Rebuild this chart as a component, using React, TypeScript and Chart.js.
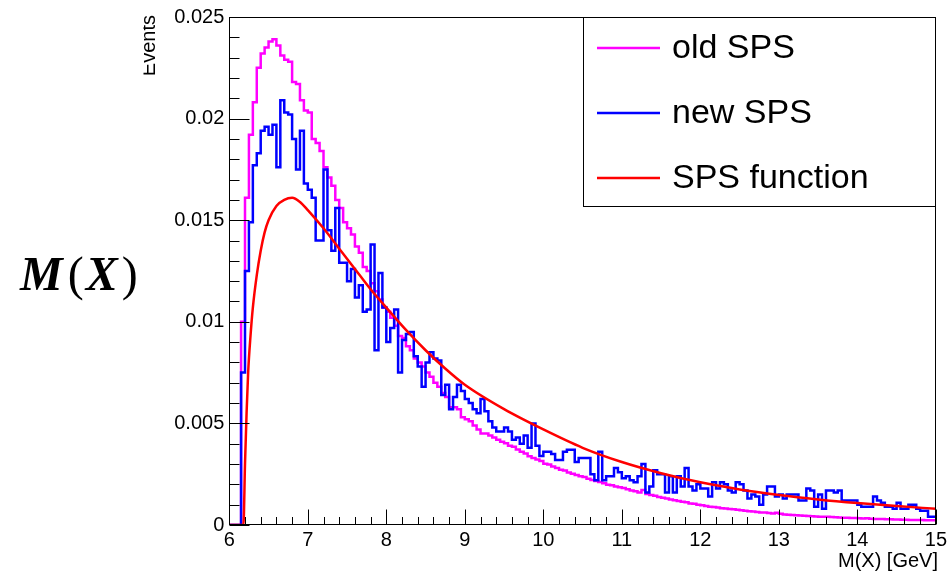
import React, { useEffect, useRef } from "react";
import { Chart, registerables } from "chart.js";

Chart.register(...registerables);

// ---------- data ----------
const BIN_LOW = 6;
const BIN_WIDTH = 0.05;

// "old SPS" histogram, 180 bins of 0.05 GeV from 6.00 to 15.00 (one row = 0.5 GeV)
const oldSPS = [
  0, 0, 0, 0, 0.0100, 0.0161, 0.0192, 0.0208, 0.0225, 0.0232,
  0.0235, 0.0238, 0.0239, 0.0236, 0.0231, 0.0229, 0.0228, 0.0218, 0.0217, 0.0209,
  0.0204, 0.0203, 0.0190, 0.0188, 0.0184, 0.0176, 0.0171, 0.0167, 0.0160, 0.0156,
  0.0149, 0.0146, 0.0143, 0.0137, 0.0134, 0.0127, 0.0125, 0.0119, 0.0115, 0.0111,
  0.0107, 0.0105, 0.0102, 0.0098, 0.0093, 0.0092, 0.0088, 0.0086, 0.0082, 0.0080,
  0.0078, 0.0075, 0.0073, 0.0070, 0.0068, 0.0065, 0.0063, 0.0058, 0.0058, 0.0057,
  0.0053, 0.0052, 0.0051, 0.0049, 0.0047, 0.0045, 0.0045, 0.0044, 0.0043, 0.0042,
  0.00410, 0.00402, 0.00390, 0.00385, 0.00372, 0.00360, 0.00352, 0.00338, 0.00330, 0.00322,
  0.00315, 0.00302, 0.00298, 0.00288, 0.00280, 0.00272, 0.00268, 0.00258, 0.00252, 0.00246,
  0.00240, 0.00236, 0.00228, 0.00222, 0.00216, 0.00212, 0.00206, 0.00198, 0.00196, 0.00190,
  0.00186, 0.00182, 0.00176, 0.00170, 0.00166, 0.00160, 0.00172, 0.00152, 0.00148, 0.00144,
  0.00138, 0.00134, 0.00130, 0.00126, 0.00122, 0.00118, 0.00114, 0.00112, 0.00106, 0.00104,
  0.00100, 0.00097, 0.00094, 0.00090, 0.00088, 0.00086, 0.00083, 0.00081, 0.00079, 0.00077,
  0.00075, 0.00073, 0.00070, 0.00068, 0.00066, 0.00064, 0.00062, 0.00061, 0.00059, 0.00057,
  0.00060, 0.00055, 0.00052, 0.00050, 0.00049, 0.00048, 0.00047, 0.00046, 0.00044, 0.00043,
  0.00042, 0.00041, 0.00040, 0.00041, 0.00039, 0.00038, 0.00037, 0.00036, 0.00036, 0.00035,
  0.00034, 0.00033, 0.00032, 0.00033, 0.00031, 0.00030, 0.00030, 0.00029, 0.00028, 0.00028,
  0.00027, 0.00027, 0.00026, 0.00026, 0.00025, 0.00025, 0.00024, 0.00024, 0.00023, 0.00023,
];

// "new SPS" histogram, same binning
const newSPS = [
  0, 0, 0, 0, 0.0075, 0.0125, 0.0149, 0.0177, 0.0183, 0.0194,
  0.0196, 0.0192, 0.0197, 0.0176, 0.0209, 0.0203, 0.0202, 0.0190, 0.0175, 0.0194,
  0.0168, 0.0165, 0.0161, 0.0140, 0.0140, 0.0175, 0.0145, 0.0135, 0.0156, 0.0129,
  0.0129, 0.0120, 0.0126, 0.0112, 0.0118, 0.0105, 0.0106, 0.0138, 0.0086, 0.0124,
  0.0107, 0.0090, 0.0097, 0.0106, 0.0075, 0.0091, 0.0094, 0.0095, 0.0083, 0.0078,
  0.0068, 0.0080, 0.0085, 0.0082, 0.0081, 0.0064, 0.0069, 0.0057, 0.0063, 0.0069,
  0.0066, 0.0062, 0.0060, 0.0057, 0.0055, 0.0062, 0.0056, 0.0051, 0.0048, 0.0046,
  0.0046, 0.0048, 0.0046, 0.0042, 0.0043, 0.0040, 0.0044, 0.0038, 0.0050, 0.0039,
  0.0034, 0.0036, 0.0036, 0.0035, 0.0032, 0.0032, 0.0036, 0.0037, 0.0037, 0.0031,
  0.0033, 0.0033, 0.0033, 0.0025, 0.0022, 0.0036, 0.0022, 0.0024, 0.0024, 0.0028,
  0.0026, 0.0023, 0.0024, 0.0022, 0.0021, 0.0024, 0.0030, 0.0016, 0.0019, 0.0027,
  0.0025, 0.0025, 0.0016, 0.0024, 0.0016, 0.0024, 0.0019, 0.0028, 0.0019, 0.0017,
  0.0020, 0.0018, 0.0018, 0.0014, 0.0021, 0.0018, 0.0021, 0.0020, 0.0017, 0.0016,
  0.0021, 0.0020, 0.0017, 0.0013, 0.0015, 0.0014, 0.0010, 0.0015, 0.0019, 0.0019,
  0.0014, 0.0015, 0.0013, 0.0015, 0.0015, 0.0015, 0.0012, 0.0012, 0.0018, 0.0017,
  0.0009, 0.0015, 0.0008, 0.0017, 0.0017, 0.0016, 0.0017, 0.0012, 0.0012, 0.0012,
  0.0012, 0.0010, 0.0009, 0.0009, 0.0009, 0.0014, 0.0012, 0.0011, 0.0009, 0.0009,
  0.0008, 0.0011, 0.0008, 0.0008, 0.0010, 0.0010, 0.0008, 0.0007, 0.0007, 0.0004,
];

// "SPS function" curve samples
const funcX = [
  6.0, 6.18, 6.2, 6.22, 6.24, 6.27, 6.3, 6.35, 6.4, 6.45, 6.5, 6.6, 6.7, 6.8, 6.9,
  7.0, 7.2, 7.4, 7.6, 7.8, 8.0, 8.25, 8.5, 8.75, 9.0, 9.5, 10, 10.5, 11, 11.5, 12,
  12.5, 13, 13.5, 14, 14.5, 15,
];
const funcY = [
  0, 0, 0.0030, 0.0055, 0.0075, 0.0093, 0.0107, 0.0123, 0.0135, 0.0144, 0.0150, 0.0157, 0.0160, 0.0161, 0.0159,
  0.0155, 0.0146, 0.0136, 0.0126, 0.0116, 0.0107, 0.0096, 0.0086, 0.0077, 0.0069, 0.0057, 0.0047, 0.0038, 0.0031, 0.00255, 0.0021,
  0.00175, 0.00148, 0.00126, 0.00108, 0.00093, 0.0008,
];

const seriesLabels = ["old SPS", "new SPS", "SPS function"];
const seriesColors = ["#ff00ff", "#0000ff", "#ff0000"];

const X_MIN = 6;
const X_MAX = 15;
const Y_MIN = 0;
const Y_MAX = 0.025;
const xTitle = "M(X) [GeV]";
const yTitle = "Events";

const FONT = "'Liberation Sans', Arial, Helvetica, sans-serif";
const SERIF = "'Liberation Serif', 'Times New Roman', serif";

const rootStyle = {
  id: "rootStyle",
  afterDraw(chart: any) {
    const { ctx, chartArea: a, scales } = chart;
    const xs = scales.x;
    const ys = scales.y;
    ctx.save();
    ctx.strokeStyle = "#000";
    ctx.lineWidth = 1;
    const L = Math.round(a.left) + 0.5;
    const R = Math.round(a.right) - 0.5;
    const T = Math.round(a.top) + 0.5;
    const B = Math.round(a.bottom) - 0.5;

    // ticks (inside the frame, ROOT style)
    ctx.beginPath();
    for (let i = 0; i <= 25; i++) {
      const v = Y_MIN + i * 0.001;
      const py = Math.round(ys.getPixelForValue(v)) + 0.5;
      const len = i % 5 === 0 ? 20 : 10;
      ctx.moveTo(L, py);
      ctx.lineTo(L + len, py);
    }
    for (let i = 0; i <= 45; i++) {
      const v = X_MIN + i * 0.2;
      const px = Math.round(xs.getPixelForValue(v)) + 0.5;
      const len = i % 5 === 0 ? 15 : 7.5;
      ctx.moveTo(px, B);
      ctx.lineTo(px, B - len);
    }
    ctx.stroke();

    // frame
    ctx.strokeRect(L, T, R - L, B - T);

    // legend box
    const lx0 = 583.5;
    const ly0 = T;
    const lx1 = R;
    const ly1 = 206.5;
    ctx.fillStyle = "#fff";
    ctx.fillRect(lx0, ly0, lx1 - lx0, ly1 - ly0);
    ctx.strokeRect(lx0, ly0, lx1 - lx0, ly1 - ly0);
    const rows = [48, 113, 178];
    chart.data.datasets.forEach((ds: any, i: number) => {
      const yy = rows[i];
      ctx.strokeStyle = ds.borderColor;
      ctx.lineWidth = 2.6;
      ctx.beginPath();
      ctx.moveTo(597, yy);
      ctx.lineTo(660, yy);
      ctx.stroke();
      ctx.fillStyle = "#000";
      ctx.font = `34px ${FONT}`;
      ctx.textAlign = "left";
      ctx.textBaseline = "middle";
      ctx.fillText(ds.label, 672, yy + 1);
    });

    // x title
    ctx.fillStyle = "#000";
    ctx.font = `20px ${FONT}`;
    ctx.textAlign = "right";
    ctx.textBaseline = "alphabetic";
    ctx.fillText(xTitle, 938, 567);

    // y title (rotated, partly cut on the left as in the reference)
    ctx.save();
    ctx.beginPath();
    ctx.rect(143.5, 0, 40, 120);
    ctx.clip();
    ctx.translate(155, 15);
    ctx.rotate(-Math.PI / 2);
    ctx.font = `20px ${FONT}`;
    ctx.textAlign = "right";
    ctx.textBaseline = "alphabetic";
    ctx.fillText(yTitle, 0, 0);
    ctx.restore();

    // big "M(X)" annotation
    const parts = [
      { t: "M", f: `italic bold 48px ${SERIF}` },
      { t: "(", f: `48px ${SERIF}` },
      { t: "X", f: `italic bold 48px ${SERIF}` },
      { t: ")", f: `48px ${SERIF}` },
    ];
    let cx = 20;
    ctx.textAlign = "left";
    ctx.textBaseline = "alphabetic";
    parts.forEach((p, i) => {
      ctx.font = p.f;
      ctx.fillText(p.t, cx, 290);
      cx += ctx.measureText(p.t).width + (i === 0 ? 5 : i === 2 ? 4 : 2);
    });
    ctx.restore();
  },
};

export default function App() {
  const ref = useRef<HTMLCanvasElement | null>(null);

  useEffect(() => {
    const canvas = ref.current;
    if (!canvas) return;
    const edges = oldSPS.map((_, i) => BIN_LOW + i * BIN_WIDTH);
    const histPoints = (vals: number[]) => {
      const pts = vals.map((v, i) => ({ x: edges[i], y: v }));
      pts.push({ x: BIN_LOW + vals.length * BIN_WIDTH, y: vals[vals.length - 1] });
      return pts;
    };
    const funcPoints = funcX.map((x, i) => ({ x, y: funcY[i] }));

    const chart = new Chart(canvas, {
      type: "line",
      data: {
        datasets: [
          {
            label: seriesLabels[0],
            data: histPoints(oldSPS),
            borderColor: seriesColors[0],
            borderWidth: 2.5,
            stepped: "after",
            pointRadius: 0,
            fill: false,
            order: 2,
          },
          {
            label: seriesLabels[1],
            data: histPoints(newSPS),
            borderColor: seriesColors[1],
            borderWidth: 2.5,
            stepped: "after",
            pointRadius: 0,
            fill: false,
            order: 1,
          },
          {
            label: seriesLabels[2],
            data: funcPoints,
            borderColor: seriesColors[2],
            borderWidth: 2.5,
            cubicInterpolationMode: "monotone",
            pointRadius: 0,
            fill: false,
            order: 0,
          },
        ],
      },
      options: {
        animation: false,
        responsive: false,
        maintainAspectRatio: false,
        devicePixelRatio: 1,
        layout: { padding: { left: 0, right: 12.3, top: 16, bottom: 0 } },
        plugins: {
          legend: { display: false },
          tooltip: { enabled: false },
        },
        scales: {
          x: {
            type: "linear",
            min: X_MIN,
            max: X_MAX,
            grid: { display: false, drawTicks: false },
            border: { display: false },
            ticks: {
              stepSize: 1,
              autoSkip: false,
              maxRotation: 0,
              padding: 3,
              color: "#000",
              font: { family: FONT, size: 20 },
            },
            afterFit: (s: any) => {
              s.height = 48;
            },
          },
          y: {
            type: "linear",
            min: Y_MIN,
            max: Y_MAX,
            grid: { display: false, drawTicks: false },
            border: { display: false },
            ticks: {
              stepSize: 0.005,
              autoSkip: false,
              padding: 5,
              color: "#000",
              font: { family: FONT, size: 20 },
              callback: (v: any) => String(Number(Number(v).toFixed(3))),
            },
            afterFit: (s: any) => {
              s.width = 229.3;
            },
          },
        },
      },
      plugins: [rootStyle],
    } as any);

    return () => chart.destroy();
  }, []);

  return (
    <div style={{ position: "absolute", left: 0, top: 0, width: 950, height: 573, background: "#fff" }}>
      <canvas ref={ref} width={950} height={573} style={{ width: 950, height: 573, display: "block" }} />
    </div>
  );
}
